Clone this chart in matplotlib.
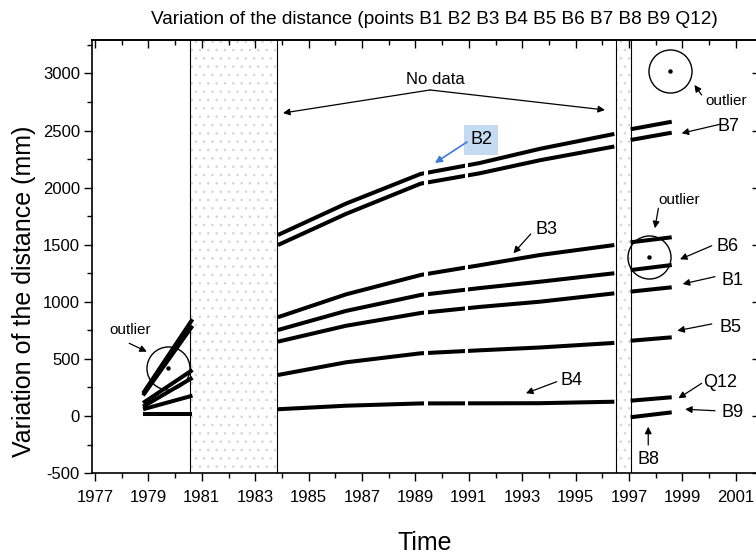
import matplotlib
matplotlib.use("Agg")
import matplotlib.pyplot as plt
from matplotlib import font_manager
import numpy as np

# ---------------- data ----------------
early_years = [1978.8, 1980.65]
early_series = {
    "E1": [199, 847],
    "E1b": [180, 790],
    "E2": [114, 403],
    "E3": [82, 335],
    "E4": [59, 178],
    "E5": [18, 18],
}

main_years = [1983.85, 1986.4, 1989.2, 1991.4, 1993.67, 1996.45]
main_series = {
    "B7": [1585, 1860, 2120, 2215, 2340, 2470],
    "B2": [1497, 1770, 2035, 2125, 2240, 2360],
    "B3": [865, 1065, 1235, 1320, 1410, 1497],
    "B6": [753, 920, 1060, 1120, 1176, 1250],
    "B1": [651, 790, 902, 955, 1001, 1074],
    "B5": [359, 470, 549, 575, 600, 640],
    "B4": [59, 90, 110, 111, 112, 125],
}

late_years = [1997.06, 1998.6]
late_series = {
    "B7": [2511, 2577],
    "B2": [2417, 2481],
    "B6a": [1521, 1565],
    "B6b": [1278, 1322],
    "B1": [1089, 1127],
    "B5": [659, 689],
    "Q12": [134, 164],
    "B9": [-11, 32],
}

outlier_years = [1979.75, 1997.76, 1998.54]
outlier_values = [418, 1395, 3024]

nodata_spans = [(1980.55, 1983.82), (1996.5, 1997.06)]
gap_spans = [(1989.33, 1989.47), (1990.86, 1990.97)]

x_major = list(range(1977, 2002, 2))
y_major = list(range(-500, 3001, 500))

# ---------------- fonts ----------------
avail = {f.name for f in font_manager.fontManager.ttflist}
if "Liberation Sans Narrow" in avail:
    FONT = ["Liberation Sans Narrow", "DejaVu Sans"]
else:
    FONT = ["Liberation Sans", "DejaVu Sans"]
plt.rcParams["font.family"] = FONT
plt.rcParams["axes.unicode_minus"] = False
plt.rcParams["hatch.linewidth"] = 0.6

# ---------------- figure ----------------
fig = plt.figure(figsize=(7.56, 5.55), dpi=100)
ax = fig.add_axes([0.1213, 0.1476, 0.8813, 0.7804])
ax.set_xlim(1976.876, 2001.83)
ax.set_ylim(-500, 3293)

# no-data shaded regions
for (a, b) in nodata_spans:
    ax.axvspan(a, b, facecolor="white", edgecolor="#d4d4d4", hatch="..",
               linewidth=0, zorder=0)
    ax.axvline(a, color="black", lw=0.8, zorder=1)
    ax.axvline(b, color="black", lw=0.8, zorder=1)

LW = 2.9
for vals in early_series.values():
    ax.plot(early_years, vals, color="black", lw=LW, solid_capstyle="butt", zorder=3)
for vals in main_series.values():
    ax.plot(main_years, vals, color="black", lw=LW, solid_capstyle="butt", zorder=3)
for vals in late_series.values():
    ax.plot(late_years, vals, color="black", lw=LW, solid_capstyle="butt", zorder=3)

# tiny breaks in the measurement series
for (a, b) in gap_spans:
    ax.axvspan(a, b, ymin=0.1, ymax=0.73, facecolor="white", edgecolor="none", zorder=4)

# outliers with circles
ax.plot(outlier_years, outlier_values, ls="none", marker="o", ms=31,
        mfc="none", mec="black", mew=1.0, zorder=5)
ax.plot(outlier_years, outlier_values, ls="none", marker="o", ms=2.2,
        color="black", zorder=5)

# ---------------- axes styling ----------------
ax.set_xticks(x_major)
ax.set_xticks(range(1977, 2002), minor=True)
ax.set_yticks(y_major)
ax.set_yticks(range(-500, 3251, 250), minor=True)
ax.tick_params(axis="both", which="major", direction="out", length=6, width=1.0,
               labelsize=12, pad=2.5)
ax.tick_params(axis="x", which="major", pad=6)
ax.tick_params(axis="both", which="minor", direction="out", length=3.5, width=1.0)
for s in ax.spines.values():
    s.set_linewidth(1.2)

top = ax.secondary_xaxis("top")
top.set_xticks(x_major)
top.set_xticks(range(1977, 2002), minor=True)
top.tick_params(which="major", direction="in", length=6, width=1.0, labeltop=False)
top.tick_params(which="minor", direction="in", length=3.5, width=1.0)
top.spines["top"].set_linewidth(1.2)

right = ax.secondary_yaxis("right")
right.set_yticks(y_major)
right.set_yticks(range(-500, 3251, 250), minor=True)
right.tick_params(which="major", direction="in", length=4, width=1.0, labelright=False)
right.tick_params(which="minor", direction="in", length=0, width=1.0)

ax.set_xlabel("Time", fontsize=18, labelpad=19)
ax.set_ylabel("Variation of the distance (mm)", fontsize=18)
ax.yaxis.set_label_coords(-0.083, 0.42)
fig.text(0.574, 0.965, "Variation of the distance (points B1 B2 B3 B4 B5 B6 B7 B8 B9 Q12)",
         ha="center", va="center", fontsize=13.7)

# ---------------- annotations ----------------
ap = dict(arrowstyle="-|>", color="black", lw=0.9, mutation_scale=10,
          shrinkA=0, shrinkB=0)

def arrow(tail, tip, **kw):
    p = dict(ap)
    p.update(kw)
    ax.annotate("", xy=tip, xytext=tail, arrowprops=p, zorder=6)

ax.text(1989.73, 2951, "No data", ha="center", va="center", fontsize=12)
arrow((1989.55, 2855), (1984.04, 2653))
arrow((1989.55, 2855), (1996.10, 2680))

ax.text(1991.46, 2417, "B2", ha="center", va="center", fontsize=13,
        bbox=dict(boxstyle="square,pad=0.35", fc="#c5dbf1", ec="none"), zorder=6)
arrow((1990.93, 2399), (1989.73, 2216), color="#3a7bd5", lw=1.2)

labels = [
    ("B3", (1993.92, 1635), (1993.32, 1594), (1992.67, 1425)),
    ("B4", (1994.85, 315), (1994.29, 300), (1993.14, 199)),
    ("B7", (2000.71, 2533), (2000.40, 2554), (1998.97, 2476)),
    ("B6", (2000.68, 1483), (2000.10, 1491), (1998.91, 1372)),
    ("B1", (2000.88, 1185), (2000.22, 1220), (1999.01, 1156)),
    ("B5", (2000.82, 777), (2000.10, 806), (1998.81, 747)),
    ("Q12", (2000.41, 292), (1999.72, 286), (1998.85, 155)),
    ("B9", (2000.88, 32), (2000.22, 46), (1999.10, 59)),
    ("B8", (1997.72, -385), (1997.72, -254), (1997.72, -94)),
]
for txt, tpos, tail, tip in labels:
    ax.text(*tpos, txt, ha="center", va="center", fontsize=13)
    arrow(tail, tip)

outl = [
    ((2000.64, 2761), (1999.72, 2811), (1999.45, 2899)),
    ((1998.88, 1892), (1998.10, 1819), (1997.97, 1644)),
    ((1978.31, 753), (1978.28, 637), (1978.94, 563)),
]
for tpos, tail, tip in outl:
    ax.text(*tpos, "outlier", ha="center", va="center", fontsize=11)
    arrow(tail, tip)

fig.savefig("out.png", dpi=100)
